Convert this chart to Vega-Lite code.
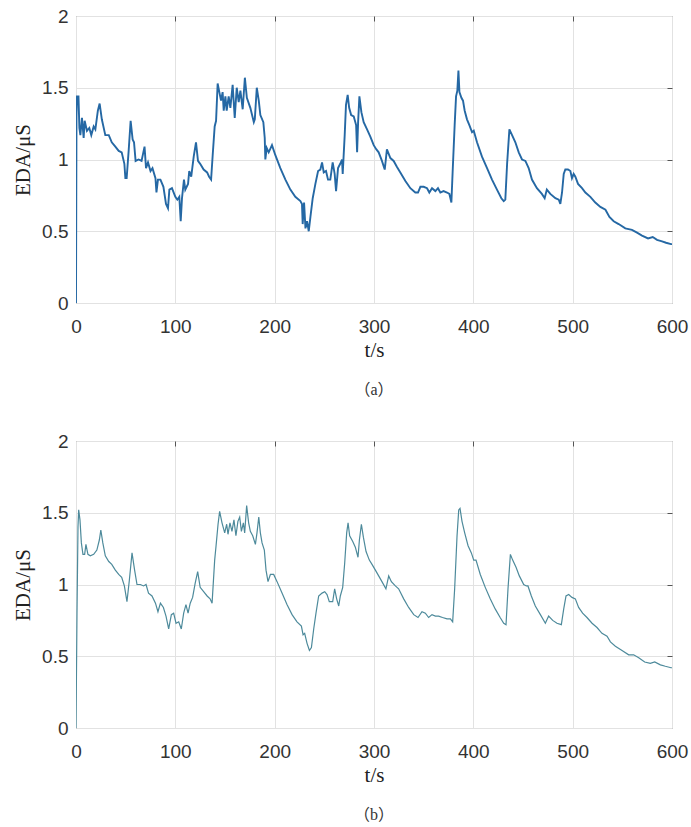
{
  "$schema": "https://vega.github.io/schema/vega-lite/v6.json",
  "padding": {"left": 12, "top": 6, "right": 0, "bottom": 0},
  "spacing": 32,
  "datasets": {
    "a": [
      {"t":0,"v":0},{"t":0.5,"v":1.3},{"t":1,"v":1.44},{"t":2.5,"v":1.44},{"t":3.4,"v":1.22},{"t":4.4,"v":1.17},{"t":6,"v":1.29},{"t":7.7,"v":1.15},{"t":8.7,"v":1.27},{"t":11,"v":1.2},{"t":13.4,"v":1.22},{"t":15.4,"v":1.17},{"t":17.8,"v":1.23},{"t":19.5,"v":1.21},{"t":22,"v":1.34},{"t":23.8,"v":1.39},{"t":26,"v":1.28},{"t":29.5,"v":1.17},{"t":33,"v":1.17},{"t":36,"v":1.12},{"t":39.6,"v":1.09},{"t":43,"v":1.06},{"t":46,"v":1.05},{"t":48.7,"v":0.97},{"t":49.7,"v":0.87},{"t":51,"v":0.87},{"t":53,"v":1.06},{"t":55,"v":1.27},{"t":57,"v":1.14},{"t":58.4,"v":1.12},{"t":60,"v":0.99},{"t":63,"v":1.0},{"t":66,"v":0.99},{"t":69,"v":1.09},{"t":70.5,"v":0.94},{"t":72.5,"v":0.98},{"t":75,"v":0.92},{"t":77,"v":0.94},{"t":80,"v":0.87},{"t":81,"v":0.77},{"t":82.5,"v":0.86},{"t":85,"v":0.86},{"t":88,"v":0.81},{"t":90.6,"v":0.69},{"t":92.6,"v":0.66},{"t":94,"v":0.79},{"t":96.6,"v":0.8},{"t":100,"v":0.74},{"t":102,"v":0.72},{"t":104,"v":0.74},{"t":105.4,"v":0.57},{"t":106.7,"v":0.73},{"t":108.7,"v":0.86},{"t":110,"v":0.79},{"t":112.8,"v":0.83},{"t":114,"v":0.92},{"t":116,"v":0.88},{"t":118.5,"v":1.02},{"t":120.8,"v":1.12},{"t":122.8,"v":0.99},{"t":125,"v":0.97},{"t":128.5,"v":0.93},{"t":132,"v":0.91},{"t":134,"v":0.88},{"t":136,"v":0.86},{"t":137.6,"v":1.03},{"t":139.6,"v":1.23},{"t":141,"v":1.27},{"t":142.6,"v":1.53},{"t":144,"v":1.48},{"t":146,"v":1.41},{"t":147.6,"v":1.47},{"t":148.7,"v":1.34},{"t":150.4,"v":1.44},{"t":151.7,"v":1.34},{"t":153.7,"v":1.44},{"t":155.4,"v":1.36},{"t":157.7,"v":1.52},{"t":159.8,"v":1.29},{"t":161.8,"v":1.5},{"t":163.8,"v":1.4},{"t":165.5,"v":1.48},{"t":167.8,"v":1.35},{"t":170,"v":1.57},{"t":172,"v":1.43},{"t":175.5,"v":1.36},{"t":179,"v":1.26},{"t":180,"v":1.28},{"t":182,"v":1.5},{"t":184,"v":1.41},{"t":185.6,"v":1.31},{"t":188.6,"v":1.26},{"t":190,"v":1.15},{"t":190.6,"v":1.0},{"t":192,"v":1.08},{"t":194,"v":1.05},{"t":197.3,"v":1.1},{"t":200.7,"v":1.03},{"t":205.7,"v":0.94},{"t":210.8,"v":0.86},{"t":215.8,"v":0.79},{"t":220.8,"v":0.74},{"t":225.9,"v":0.71},{"t":227.5,"v":0.69},{"t":228.2,"v":0.55},{"t":229.6,"v":0.7},{"t":231,"v":0.52},{"t":232.6,"v":0.57},{"t":234.3,"v":0.5},{"t":236,"v":0.6},{"t":238.3,"v":0.73},{"t":241,"v":0.83},{"t":243.7,"v":0.92},{"t":246,"v":0.93},{"t":247.7,"v":0.98},{"t":249.4,"v":0.91},{"t":251.7,"v":0.92},{"t":253.7,"v":0.86},{"t":256,"v":0.86},{"t":258.4,"v":0.98},{"t":260.4,"v":0.9},{"t":261.8,"v":0.78},{"t":263.8,"v":0.94},{"t":266,"v":0.97},{"t":267.8,"v":1.0},{"t":268.5,"v":0.9},{"t":270.5,"v":1.17},{"t":271.8,"v":1.38},{"t":273.5,"v":1.45},{"t":275,"v":1.36},{"t":277,"v":1.31},{"t":279.6,"v":1.3},{"t":282,"v":1.24},{"t":283,"v":1.05},{"t":284,"v":1.26},{"t":285.3,"v":1.44},{"t":287.3,"v":1.33},{"t":289.6,"v":1.26},{"t":293,"v":1.21},{"t":296.3,"v":1.16},{"t":299.7,"v":1.1},{"t":302.4,"v":1.07},{"t":304.7,"v":1.05},{"t":308,"v":0.99},{"t":310.8,"v":0.93},{"t":313,"v":1.07},{"t":316.5,"v":1.01},{"t":319.8,"v":0.99},{"t":323,"v":0.95},{"t":326.5,"v":0.91},{"t":331.6,"v":0.85},{"t":336.6,"v":0.8},{"t":341.6,"v":0.77},{"t":344.3,"v":0.77},{"t":346.7,"v":0.81},{"t":350,"v":0.81},{"t":353.4,"v":0.8},{"t":355.7,"v":0.77},{"t":358.4,"v":0.8},{"t":361.8,"v":0.78},{"t":364.4,"v":0.8},{"t":366.8,"v":0.77},{"t":370,"v":0.78},{"t":373.5,"v":0.77},{"t":375.9,"v":0.76},{"t":377.9,"v":0.7},{"t":379.2,"v":0.92},{"t":381.2,"v":1.24},{"t":382.6,"v":1.44},{"t":383.9,"v":1.48},{"t":385,"v":1.62},{"t":386,"v":1.47},{"t":388,"v":1.43},{"t":389.6,"v":1.41},{"t":391.3,"v":1.34},{"t":393.6,"v":1.28},{"t":396,"v":1.24},{"t":398.7,"v":1.19},{"t":400.4,"v":1.2},{"t":403.7,"v":1.12},{"t":408.7,"v":1.02},{"t":413.8,"v":0.94},{"t":418.8,"v":0.86},{"t":423.8,"v":0.79},{"t":428.2,"v":0.73},{"t":430.6,"v":0.71},{"t":432.2,"v":0.72},{"t":434,"v":0.97},{"t":436.3,"v":1.21},{"t":439,"v":1.17},{"t":442.3,"v":1.12},{"t":445.7,"v":1.05},{"t":449,"v":1.0},{"t":452.4,"v":0.99},{"t":455.7,"v":0.94},{"t":459,"v":0.86},{"t":464,"v":0.8},{"t":469,"v":0.76},{"t":471.8,"v":0.73},{"t":474,"v":0.79},{"t":477.5,"v":0.76},{"t":482.6,"v":0.73},{"t":486,"v":0.72},{"t":487.6,"v":0.69},{"t":489.3,"v":0.77},{"t":491,"v":0.9},{"t":492.6,"v":0.93},{"t":495.3,"v":0.93},{"t":497.7,"v":0.92},{"t":499.3,"v":0.87},{"t":501,"v":0.9},{"t":502.7,"v":0.88},{"t":505.4,"v":0.83},{"t":509.4,"v":0.8},{"t":512.8,"v":0.77},{"t":517.8,"v":0.74},{"t":522.8,"v":0.7},{"t":527.9,"v":0.67},{"t":533,"v":0.65},{"t":537,"v":0.6},{"t":541.3,"v":0.57},{"t":546.3,"v":0.55},{"t":553,"v":0.52},{"t":559.7,"v":0.51},{"t":564.8,"v":0.49},{"t":569.8,"v":0.47},{"t":575.9,"v":0.45},{"t":580.6,"v":0.46},{"t":584.9,"v":0.44},{"t":590,"v":0.43},{"t":594,"v":0.42},{"t":599,"v":0.41},{"t":600,"v":0.41}
    ],
    "b": [
      {"t":0,"v":0},{"t":1,"v":0.8},{"t":2,"v":1.4},{"t":2.7,"v":1.52},{"t":4,"v":1.45},{"t":5.4,"v":1.29},{"t":7,"v":1.21},{"t":8.7,"v":1.21},{"t":10,"v":1.28},{"t":12,"v":1.21},{"t":14.4,"v":1.2},{"t":17.8,"v":1.21},{"t":21,"v":1.24},{"t":23.5,"v":1.31},{"t":25,"v":1.38},{"t":27,"v":1.29},{"t":29.5,"v":1.2},{"t":33,"v":1.16},{"t":36,"v":1.14},{"t":39.6,"v":1.1},{"t":43,"v":1.07},{"t":46,"v":1.05},{"t":48.7,"v":0.99},{"t":51.3,"v":0.88},{"t":53.7,"v":1.03},{"t":56.4,"v":1.22},{"t":59,"v":1.1},{"t":61.4,"v":1.0},{"t":64.8,"v":1.0},{"t":68,"v":0.99},{"t":70.5,"v":1.0},{"t":73,"v":0.94},{"t":76.5,"v":0.92},{"t":80,"v":0.87},{"t":82.5,"v":0.81},{"t":85,"v":0.87},{"t":88,"v":0.84},{"t":90.6,"v":0.78},{"t":93.3,"v":0.69},{"t":96,"v":0.79},{"t":98.3,"v":0.8},{"t":100.7,"v":0.73},{"t":103.4,"v":0.74},{"t":106,"v":0.69},{"t":108.4,"v":0.8},{"t":110.7,"v":0.86},{"t":112.8,"v":0.8},{"t":115,"v":0.87},{"t":117.4,"v":0.91},{"t":120,"v":1.01},{"t":122.5,"v":1.09},{"t":125,"v":0.98},{"t":128.5,"v":0.95},{"t":132,"v":0.92},{"t":135,"v":0.9},{"t":137,"v":0.87},{"t":139.6,"v":1.17},{"t":141,"v":1.27},{"t":143,"v":1.42},{"t":144.6,"v":1.51},{"t":147,"v":1.43},{"t":149.7,"v":1.36},{"t":151.7,"v":1.42},{"t":153,"v":1.35},{"t":155,"v":1.43},{"t":157,"v":1.37},{"t":159,"v":1.45},{"t":161,"v":1.34},{"t":163,"v":1.44},{"t":164.8,"v":1.47},{"t":166.5,"v":1.37},{"t":168.5,"v":1.43},{"t":169.8,"v":1.36},{"t":171.8,"v":1.55},{"t":173.8,"v":1.43},{"t":175.5,"v":1.37},{"t":177.9,"v":1.34},{"t":180.6,"v":1.28},{"t":182.2,"v":1.36},{"t":184,"v":1.47},{"t":185.6,"v":1.36},{"t":187.3,"v":1.29},{"t":189.6,"v":1.24},{"t":191.3,"v":1.1},{"t":193.3,"v":1.02},{"t":195.7,"v":1.07},{"t":199,"v":1.07},{"t":202.4,"v":1.02},{"t":207.4,"v":0.94},{"t":212.4,"v":0.86},{"t":217.5,"v":0.79},{"t":222.5,"v":0.74},{"t":226.9,"v":0.71},{"t":228.6,"v":0.65},{"t":230.2,"v":0.66},{"t":232.6,"v":0.59},{"t":235,"v":0.54},{"t":237,"v":0.56},{"t":239.3,"v":0.69},{"t":241.6,"v":0.8},{"t":244.3,"v":0.92},{"t":247.7,"v":0.94},{"t":250.4,"v":0.95},{"t":252.7,"v":0.93},{"t":255,"v":0.88},{"t":258.4,"v":0.88},{"t":260.4,"v":0.97},{"t":262.4,"v":0.9},{"t":264.5,"v":0.85},{"t":266.1,"v":0.92},{"t":268.5,"v":0.98},{"t":270.5,"v":1.15},{"t":272.5,"v":1.36},{"t":273.9,"v":1.43},{"t":275.5,"v":1.34},{"t":278.6,"v":1.3},{"t":281.2,"v":1.26},{"t":283.9,"v":1.19},{"t":285.3,"v":1.31},{"t":287.3,"v":1.42},{"t":289.3,"v":1.33},{"t":292,"v":1.23},{"t":295.3,"v":1.17},{"t":298,"v":1.14},{"t":301.4,"v":1.1},{"t":304.7,"v":1.06},{"t":308,"v":1.02},{"t":312,"v":0.97},{"t":314.8,"v":1.06},{"t":317.5,"v":1.02},{"t":321.5,"v":0.99},{"t":324.8,"v":0.97},{"t":329.9,"v":0.9},{"t":334.9,"v":0.84},{"t":340,"v":0.79},{"t":344.3,"v":0.77},{"t":348.3,"v":0.81},{"t":351.7,"v":0.8},{"t":355,"v":0.77},{"t":358.4,"v":0.79},{"t":361.8,"v":0.78},{"t":365,"v":0.78},{"t":369,"v":0.77},{"t":373.5,"v":0.76},{"t":376.9,"v":0.76},{"t":379.2,"v":0.74},{"t":381.2,"v":0.97},{"t":383.6,"v":1.34},{"t":385.3,"v":1.52},{"t":386.6,"v":1.53},{"t":388.6,"v":1.44},{"t":391.3,"v":1.36},{"t":394.7,"v":1.27},{"t":398,"v":1.22},{"t":400.4,"v":1.17},{"t":402.7,"v":1.17},{"t":407,"v":1.07},{"t":412,"v":0.98},{"t":417,"v":0.9},{"t":422,"v":0.83},{"t":427,"v":0.77},{"t":430.6,"v":0.73},{"t":432.9,"v":0.72},{"t":434.9,"v":0.97},{"t":437.3,"v":1.21},{"t":439.6,"v":1.17},{"t":443,"v":1.12},{"t":446.3,"v":1.06},{"t":450.7,"v":1.0},{"t":453.4,"v":0.99},{"t":455,"v":0.99},{"t":458.4,"v":0.92},{"t":462.4,"v":0.85},{"t":467.5,"v":0.79},{"t":472.5,"v":0.73},{"t":475.8,"v":0.78},{"t":479.9,"v":0.75},{"t":484.2,"v":0.73},{"t":488.6,"v":0.72},{"t":491,"v":0.83},{"t":493.3,"v":0.92},{"t":496,"v":0.93},{"t":499.3,"v":0.91},{"t":502.7,"v":0.9},{"t":506,"v":0.84},{"t":510,"v":0.8},{"t":514.4,"v":0.77},{"t":519.5,"v":0.73},{"t":524.5,"v":0.7},{"t":529.5,"v":0.66},{"t":534.6,"v":0.64},{"t":538,"v":0.6},{"t":543,"v":0.57},{"t":549.7,"v":0.54},{"t":556.4,"v":0.51},{"t":561.4,"v":0.51},{"t":566.5,"v":0.49},{"t":572.5,"v":0.46},{"t":578.2,"v":0.45},{"t":582.6,"v":0.46},{"t":588.3,"v":0.44},{"t":593.3,"v":0.43},{"t":599,"v":0.42},{"t":600,"v":0.42}
    ]
  },
  "vconcat": [
    {
      "data": {"name": "a"},
      "width": 596,
      "height": 287,
      "title": {"text": "（a）", "orient": "bottom", "anchor": "middle", "frame": "group", "offset": 22},
      "resolve": {"axis": {"x": "independent", "y": "independent"}},
      "layer": [
        {
          "mark": {"type": "line", "color": "#2568a4", "strokeWidth": 1.9, "clip": true},
          "encoding": {
            "x": {"field": "t", "type": "quantitative", "scale": {"domain": [0, 600], "nice": false}, "axis": {"title": "t/s", "values": [0,100,200,300,400,500,600]}},
            "y": {"field": "v", "type": "quantitative", "scale": {"domain": [0, 2], "nice": false}, "axis": {"title": "EDA/μS", "values": [0,0.5,1,1.5,2], "format": "~g"}}
          }
        },
        {
          "mark": {"type": "line", "opacity": 0, "clip": true},
          "encoding": {
            "x": {"field": "t", "type": "quantitative", "scale": {"domain": [0, 600], "nice": false}, "axis": {"orient": "top", "title": null, "labels": false, "grid": false, "ticks": true, "tickSize": -5, "tickColor": "#555555", "values": [100,200,300,400,500]}},
            "y": {"field": "v", "type": "quantitative", "scale": {"domain": [0, 2], "nice": false}, "axis": {"orient": "right", "title": null, "labels": false, "grid": false, "ticks": true, "tickSize": -5, "tickColor": "#555555", "values": [0.5,1,1.5]}}
          }
        }
      ]
    },
    {
      "data": {"name": "b"},
      "width": 596,
      "height": 287,
      "title": {"text": "（b）", "orient": "bottom", "anchor": "middle", "frame": "group", "offset": 22},
      "resolve": {"axis": {"x": "independent", "y": "independent"}},
      "layer": [
        {
          "mark": {"type": "line", "color": "#4d8a9b", "strokeWidth": 1.2, "clip": true},
          "encoding": {
            "x": {"field": "t", "type": "quantitative", "scale": {"domain": [0, 600], "nice": false}, "axis": {"title": "t/s", "values": [0,100,200,300,400,500,600]}},
            "y": {"field": "v", "type": "quantitative", "scale": {"domain": [0, 2], "nice": false}, "axis": {"title": "EDA/μS", "values": [0,0.5,1,1.5,2], "format": "~g"}}
          }
        },
        {
          "mark": {"type": "line", "opacity": 0, "clip": true},
          "encoding": {
            "x": {"field": "t", "type": "quantitative", "scale": {"domain": [0, 600], "nice": false}, "axis": {"orient": "top", "title": null, "labels": false, "grid": false, "ticks": true, "tickSize": -5, "tickColor": "#555555", "values": [100,200,300,400,500]}},
            "y": {"field": "v", "type": "quantitative", "scale": {"domain": [0, 2], "nice": false}, "axis": {"orient": "right", "title": null, "labels": false, "grid": false, "ticks": true, "tickSize": -5, "tickColor": "#555555", "values": [0.5,1,1.5]}}
          }
        }
      ]
    }
  ],
  "config": {
    "background": "white",
    "view": {"stroke": "#707070", "strokeWidth": 1},
    "axis": {
      "grid": true, "gridColor": "#e2e2e2", "gridWidth": 1,
      "domain": false, "ticks": false,
      "labelFont": "Liberation Sans", "labelFontSize": 19, "labelColor": "#333333",
      "labelFlush": false,
      "titleFont": "Liberation Serif", "titleFontSize": 21, "titleFontWeight": "normal", "titleColor": "#222222"
    },
    "axisX": {"labelPadding": 14, "titlePadding": 3},
    "axisY": {"labelPadding": 8, "titlePadding": 8},
    "title": {"font": "Liberation Serif, Noto Sans CJK SC", "fontSize": 16, "fontWeight": "normal", "color": "#333333"}
  }
}
